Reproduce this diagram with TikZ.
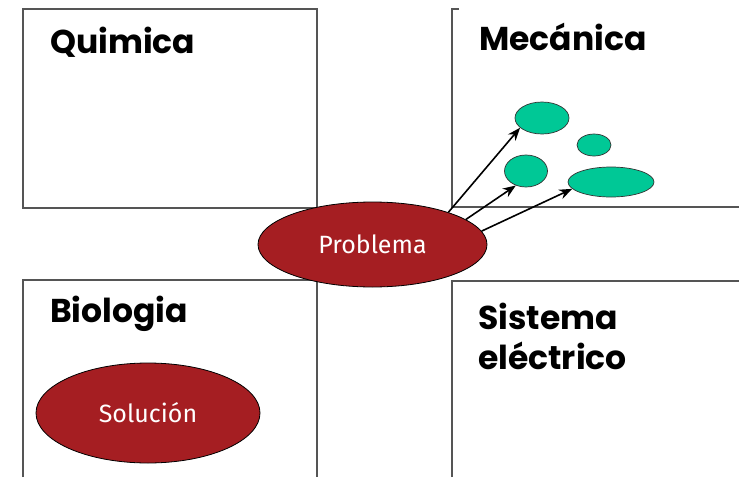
\documentclass[tikz,border=0pt]{standalone}
\usepackage{fontspec}
\setmainfont{Poppins}
\newfontfamily\blobfont{Fira Sans}
\usepackage{xcolor}
\usepackage{tikz}
\usetikzlibrary{positioning,shapes.geometric,arrows.meta,calc}

\definecolor{probred}{RGB}{165,30,34}
\definecolor{blobgreen}{RGB}{0,200,150}
\definecolor{framegray}{RGB}{85,85,85}

\begin{document}
\begin{tikzpicture}[x=1pt,y=-1pt,
            frame/.style={draw=framegray, line width=1.5pt},
            area/.style={font=\fontsize{33}{40}\selectfont\bfseries, inner sep=0pt, align=left},
            redblob/.style={ellipse, draw=black, line width=0.8pt, fill=probred, text=white,
            font=\blobfont\fontsize{25}{30}\selectfont},
            greenblob/.style={ellipse, draw=black!80, line width=0.7pt, fill=blobgreen, inner sep=0pt},
            link/.style={-{Stealth[length=13pt,width=10pt]}, line width=1.6pt}]

  \useasboundingbox (0,0) rectangle (739,477);

  % the four fields
  \draw[frame] (23,9) rectangle (317,208);
  \draw[frame] (459,9) -- (452,9) -- (452,207) -- (739,207);
  \draw[frame] (23,477) -- (23,280) -- (317,280) -- (317,477);
  \draw[frame] (452,477) -- (452,281) -- (739,281);

  \node[area, anchor=base west] (quimica) at (50,53) {Quimica};
  \node[area, anchor=base west] (mecanica) at (479,50) {Mecánica};
  \node[area, anchor=base west] (biologia) at (50,322) {Biologia};
  \node[area, anchor=north west] (sistema) at (478,303) {Sistema\\eléctrico};

  % problem and solution
  \node[redblob, minimum width=229pt, minimum height=85pt] (problema) at (372.5,244.5) {Problema};
  \node[redblob, minimum width=224pt, minimum height=100pt] (solucion) at (148,413) {Solución};

  % ideas in mechanics
  \node[greenblob, minimum width=54pt, minimum height=32pt] (idea1) at (542,118) {};
  \node[greenblob, minimum width=34pt, minimum height=22pt] (idea2) at (594,145) {};
  \node[greenblob, minimum width=43pt, minimum height=32pt] (idea3) at (526,171) {};
  \node[greenblob, minimum width=86pt, minimum height=30pt] (idea4) at (611,182) {};

  \draw[link] (problema.23) -- (idea1.204);
  \draw[link] (problema.15) -- (idea3.235);
  \draw[link] (problema.7) -- (idea4.190);
\end{tikzpicture}
\end{document}
